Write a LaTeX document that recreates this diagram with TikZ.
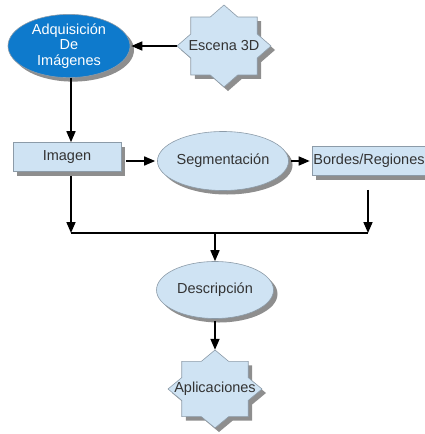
\documentclass[tikz,border=0pt]{standalone}
\usepackage{fontspec}
\setmainfont{Liberation Sans}
\usetikzlibrary{shapes.geometric,shadows,arrows.meta}

\definecolor{boxfill}{HTML}{CFE3F3}
\definecolor{boxline}{HTML}{8C9BA8}
\definecolor{darkfill}{HTML}{0E7ACC}
\definecolor{txtgray}{HTML}{333333}
\definecolor{shade}{HTML}{8E8E8E}

\tikzset{
  shadowed/.style={drop shadow={shadow xshift=4pt, shadow yshift=-4pt, fill=shade, opacity=1}},
  label text/.style={font=\fontsize{14.5}{16}\selectfont, text=txtgray},
  rectbox/.style={shadowed, rectangle, draw=boxline, line width=0.6pt, fill=boxfill,
    minimum width=108pt, minimum height=29pt, inner sep=0pt, label text},
  ellbox/.style={shadowed, ellipse, draw=boxline, line width=0.6pt, fill=boxfill,
    inner sep=0pt, label text},
  starface/.style={draw=boxline, line width=0.6pt, fill=boxfill},
  starshade/.style={fill=shade},
  anchorshape/.style={ellipse, inner sep=0pt, draw=none},
  arr/.style={line width=1.6pt, -{Triangle[length=11pt,width=9pt]}},
  joinline/.style={line width=1.6pt}
}

% eight-pointed star (two overlapping squares): #1 centre, #2 x radius, #3 y radius, #4 style
\newcommand{\octastar}[4]{%
  \begin{scope}[shift={#1}]
    \path[#4] (#2,0)
      \foreach \k in {1,...,15}{
        -- ({\k*22.5}:{#2*(1-0.235*mod(\k,2))} and {#3*(1-0.235*mod(\k,2))})
      } -- cycle;
  \end{scope}}

\begin{document}
\begin{tikzpicture}[x=1pt,y=-1pt]
  \useasboundingbox (0,0) rectangle (425,434);

  % acquisition stage
  \node[ellbox, fill=darkfill, minimum width=122pt, minimum height=63pt, text=white,
        align=center, font=\fontsize{14.5}{15.5}\selectfont] (adq) at (69,46)
        {Adquisición\\De\\Imágenes};
  \octastar{(228,50)}{47}{41}{starshade}
  \octastar{(224,46)}{47}{41}{starface}
  \node[anchorshape, minimum width=94pt, minimum height=82pt] (esc) at (224,46) {};
  \node[label text] at (esc) {Escena 3D};

  % image and segmentation
  \node[rectbox] (img) at (67,157) {Imagen};
  \node[ellbox, minimum width=120pt, minimum height=59pt] (seg) at (223,161) {Segmentación};
  \node[rectbox, minimum width=114pt] (bor) at (369,161) {Bordes/Regiones};

  % description and applications
  \node[ellbox, minimum width=117pt, minimum height=57pt] (des) at (215,290) {Descripción};
  \octastar{(219,393)}{47}{39}{starshade}
  \octastar{(215,389)}{47}{39}{starface}
  \node[anchorshape, minimum width=94pt, minimum height=78pt] (apl) at (215,389) {};
  \node[label text] at (apl) {Aplicaciones};

  % junction points of the merge line
  \coordinate (jl) at (71,233);
  \coordinate (jr) at (368,233);
  \coordinate (jm) at (215,233);

  % connectors
  \draw[arr, shorten >=1pt] (esc.west) -- (adq.east);
  \draw[arr] (adq.south -| jl) -- (jl |- img.north);
  \draw[arr, shorten <=5pt, shorten >=2pt] (img.east |- seg.west) -- (seg.west);
  \draw[arr, shorten <=2pt, shorten >=2pt] (seg.east) -- (bor.west);
  \draw[arr, shorten <=4pt] (img.south -| jl) -- (jl);
  \draw[arr, shorten <=14pt] (bor.south -| jr) -- (jr);
  \draw[joinline] (jl) -- (jr);
  \draw[arr] (jm) -- (des.north);
  \draw[arr, shorten <=2pt] (des.south) -- (apl.north);
\end{tikzpicture}
\end{document}
